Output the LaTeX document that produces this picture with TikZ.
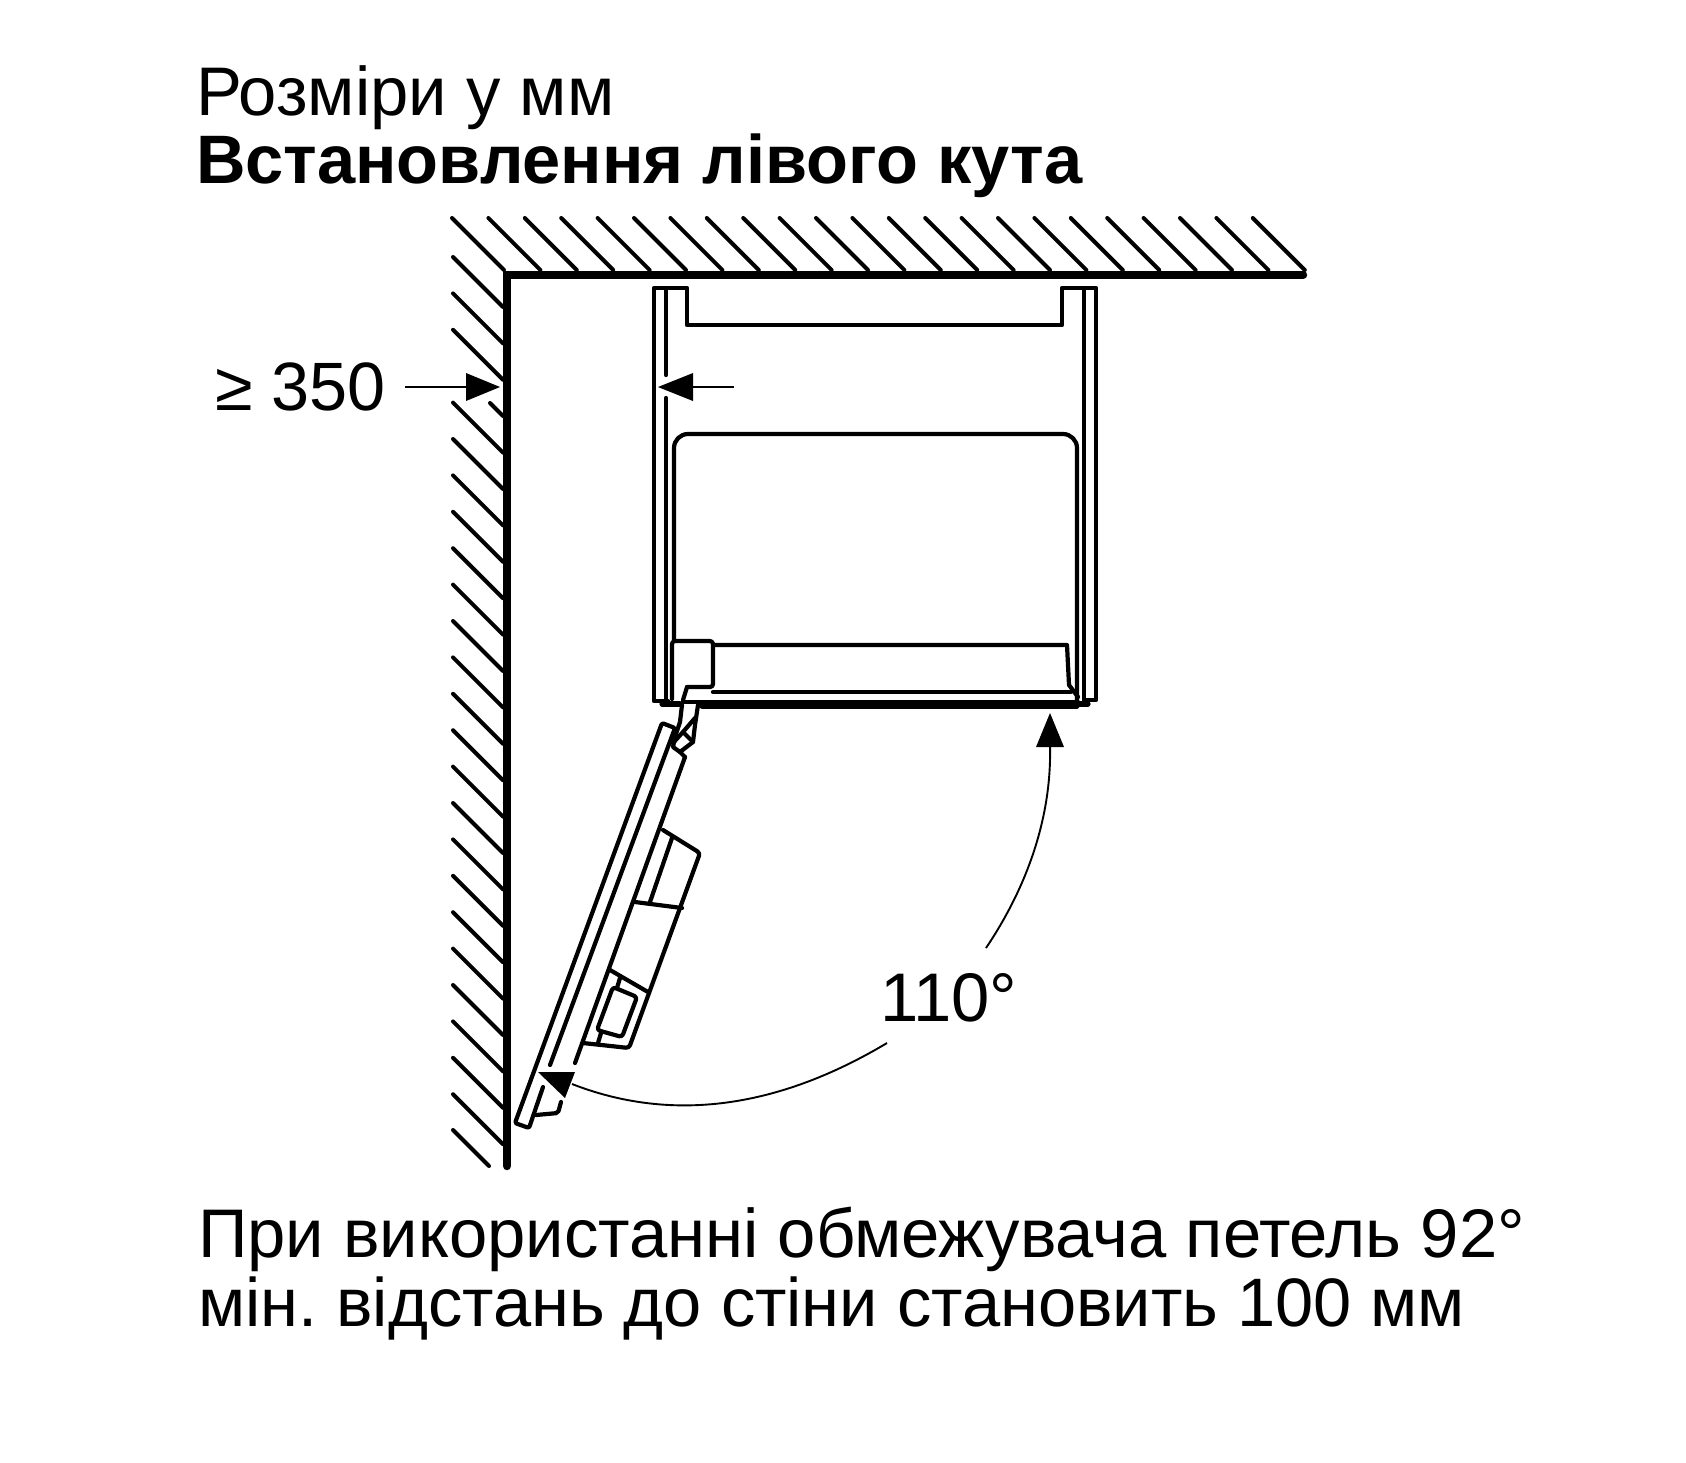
\documentclass[tikz,border=0pt]{standalone}
\usepackage{fontspec}
\setmainfont{Liberation Sans}
\frenchspacing
\tikzset{
  x=0.5pt,y=-0.5pt,
  wall/.style={line width=4.2pt,line cap=round,line join=miter},
  hatch/.style={line width=2pt,line cap=round},
  part/.style={line width=2.1pt,line join=round,line cap=round},
  thick part/.style={line width=2.6pt,line join=round,line cap=round},
  dim/.style={line width=0.95pt},
  head/.style={fill=black,draw=none},
  lab/.style={anchor=base west,inner sep=0pt,outer sep=0pt,font=\fontsize{34.4}{34.4}\selectfont},
}
\begin{document}
\begin{tikzpicture}
\useasboundingbox (0,0) rectangle (1686,1462);
\fill[white] (0,0) rectangle (1686,1462);
% hatching
\foreach \k in {0,...,22} \draw[hatch] ({452+36.4*\k},218) -- ++(52,52);
\foreach \k in {0,1,2} \draw[hatch] (453,{257+36.4*\k}) -- ++(50,50);
\foreach \k in {4,...,23} \draw[hatch] (453,{257+36.4*\k}) -- ++(50,50);
\draw[hatch] (490,403) -- (503,416);
\draw[hatch] (453,1130) -- (489,1166);
% wall
\coordinate (wb) at (507,1166);
\coordinate (wc) at (507,275);
\coordinate (we) at (1303,275);
\draw[wall] (wb) -- (wc) -- (we);
% cabinet
\draw[part] (668,701) -- (654,701) -- (654,288) -- (687,288) -- (687,325) -- (1062,325) -- (1062,288) -- (1096,288) -- (1096,700) -- (1085,700);
\draw[part] (666,288) -- (666,375);
\draw[part] (666,398) -- (666,701);
\draw[part] (1084,288) -- (1084,703);
\draw[part,rounded corners=7pt] (674,640) -- (674,434) -- (1077,434) -- (1077,703);
% drawer
\draw[part,rounded corners=1.5pt] (687,687) -- (713,687) -- (713,641) -- (672,641) -- (672,699);
\draw[part] (687,687) -- (683,700);
\draw[part] (713,645) -- (1067,645) -- (1069,685) -- (1078,697);
\draw[part] (713,692) -- (1071,692);
\draw[part] (683,702) -- (1078,702);
\draw[thick part] (702,706) -- (1077,706);
\draw[thick part] (662,704) -- (680,704);
\draw[thick part] (1077,704) -- (1088,704);
% hinge
\draw[part] (682,705) -- (680,722) -- (675,737) -- (673,747) -- (680,752) -- (693,742) -- (695,725) -- (698,705);
\draw[part] (695,718) -- (683,732) -- (673,743);
\draw[part] (683,732) -- (693,742);
\draw[part] (680,752) -- (685,757);
% door
\draw[part,rounded corners=1pt] (543,1087) -- (529,1128) -- (515,1123) -- (662,723) -- (675,728) -- (550,1065);
\draw[part] (685,757) -- (575,1063);
\draw[part,rounded corners=1pt] (561,1102) -- (558,1113) -- (536,1115);
\draw[part,rounded corners=1.5pt] (663,830) -- (700,853) -- (629,1048) -- (583,1043);
\draw[part] (672,838) -- (650,902);
\draw[part] (635,902) -- (682,908);
\draw[part] (610,970) -- (648,992);
\draw[part,rounded corners=1.5pt] (613,987) -- (637,997) -- (622,1037) -- (597,1030) -- cycle;
\draw[part] (620,978) -- (617,988);
\draw[part] (601,1033) -- (598,1043);
% dimension arrows
\coordinate (a1) at (405,387);
\coordinate (a1t) at (500,387);
\draw[dim] (a1) -- (470,387);
\fill[head] (a1t) -- (466,373) -- (466,401) -- cycle;
\coordinate (a2) at (734,387);
\coordinate (a2t) at (658,387);
\draw[dim] (a2) -- (690,387);
\fill[head] (a2t) -- (693,373) -- (693,401) -- cycle;
\coordinate (a3s) at (986,948);
\coordinate (a3t) at (1050,713);
\draw[dim] (a3s) .. controls (1025,890) and (1052,820) .. (1050,745);
\fill[head] (a3t) -- (1036,747) -- (1064,747) -- cycle;
\coordinate (a4s) at (887,1043);
\coordinate (a4t) at (538,1072);
\draw[dim] (a4s) .. controls (800,1095) and (690,1130) .. (572,1084);
\fill[head] (a4t) -- (575,1072) -- (565,1098) -- cycle;
% text
\node[lab] (t1) at (196,115) {Розміри у мм};
\node[lab,font=\fontsize{34.3}{34.3}\selectfont\bfseries] (t2) at (196,183) {Встановлення лівого кута};
\node[lab,font=\fontsize{34.2}{34.2}\selectfont] (t3) at (215,410) {≥ 350};
\node[lab] (t4) at (880,1021) {110°};
\node[lab] (t5) at (198,1257) {При використанні обмежувача петель 92°};
\node[lab,font=\fontsize{34.3}{34.3}\selectfont] (t6) at (198,1326) {мін. відстань до стіни становить 100 мм};
\end{tikzpicture}
\end{document}
